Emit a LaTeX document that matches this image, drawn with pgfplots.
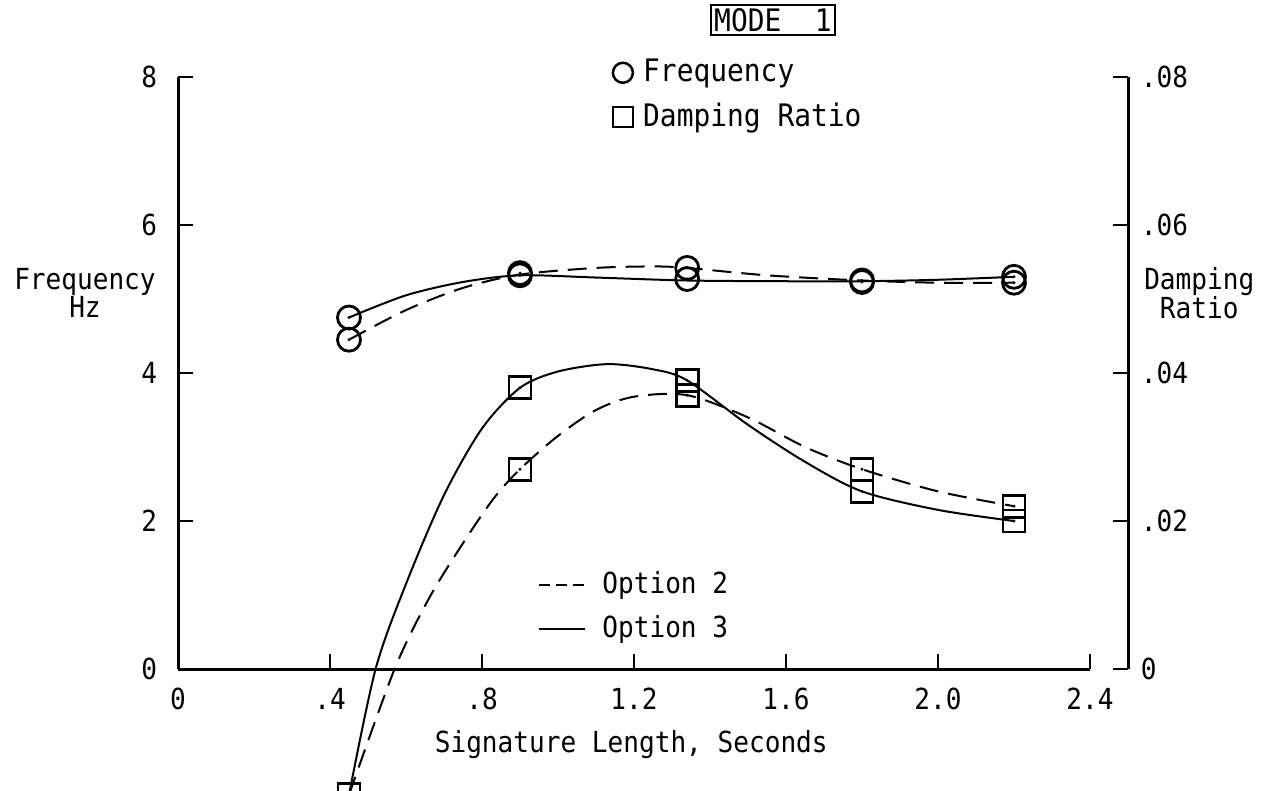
\documentclass[border=0pt]{standalone}
\usepackage{fontspec}
\setmainfont[FakeStretch=0.9]{DejaVu Sans Mono}
\usepackage{pgfplots}
\pgfplotsset{compat=1.18}

% marks with a small dot in the middle, as in the original
\pgfdeclareplotmark{cdot}{%
  \pgfpathcircle{\pgfpointorigin}{\pgfplotmarksize}\pgfusepathqstroke
  \pgfpathcircle{\pgfpointorigin}{1.6pt}\pgfusepathqfill}
\pgfdeclareplotmark{sdot}{%
  \pgfpathrectangle{\pgfpoint{-\pgfplotmarksize}{-\pgfplotmarksize}}%
    {\pgfpoint{2\pgfplotmarksize}{2\pgfplotmarksize}}\pgfusepathqstroke
  \pgfpathcircle{\pgfpointorigin}{1.6pt}\pgfusepathqfill}

\pgfplotsset{
  base/.style={
    scale only axis, height=592pt, ymin=0,
    at={(178pt,121pt)}, anchor=south west,
    clip=false, tick align=inside, major tick length=15pt,
    tick style={line width=2.5pt, black},
    axis line style={line width=3pt, -},
    scaled y ticks=false,
    legend cell align=left,
  },
  opt2/.style={black, line width=2pt, dash pattern=on 19pt off 10pt},
  opt3/.style={black, line width=2pt},
  fmark/.style={only marks, mark=cdot, mark size=11.5pt, black, mark options={line width=2.8pt, solid}},
  dmark/.style={only marks, mark=sdot, mark size=11pt, black, mark options={line width=2.8pt, solid}},
  circleg/.style={legend image code/.code={\draw[##1] (0pt,0pt) circle (10pt);}},
  sqleg/.style={legend image code/.code={\draw[##1] (-10pt,-10pt) rectangle (10pt,10pt);}},
  lineleg/.style={legend image code/.code={\draw[##1] (0pt,0pt) -- (46pt,0pt);}},
  dashleg/.style={legend image code/.code={\draw[##1, dash pattern=on 11pt off 6pt] (0pt,0pt) -- (45pt,0pt);}},
}

\begin{document}
\fontsize{29pt}{25pt}\selectfont
\begin{tikzpicture}
\begin{axis}[base,
  width=912pt, xmin=0, xmax=2.4, ymax=8,
  axis x line*=bottom, axis y line*=left,
  xtick={0,0.4,0.8,1.2,1.6,2.0,2.4},
  xticklabels={0,.4,.8,1.2,1.6,2.0,2.4},
  xticklabel style={yshift=-9pt},
  ytick={0,2,4,6,8}, yticklabels={0,2,4,6,8},
  yticklabel style={xshift=-11pt},
  xlabel={Signature Length, Seconds},
  xlabel style={at={(axis description cs:0.497,-0.128)}, anchor=center},
  ylabel={Frequency\\Hz},
  ylabel style={rotate=-90, align=center, at={(axis description cs:-0.102,0.635)}, anchor=center},
  legend style={draw=none, fill=none, at={(axis description cs:0.472,1.037)}, anchor=north west,
    row sep=13pt, nodes={inner sep=2pt, font=\fontsize{31pt}{25pt}\selectfont}, column sep=7pt},
]
% frequency, option 2 (dashed)
\addplot[opt2, smooth, forget plot] coordinates {(0.45,4.45) (0.6,4.85) (0.75,5.15) (0.9,5.33) (1.1,5.42)
  (1.25,5.44) (1.34,5.42) (1.55,5.32) (1.8,5.25) (2.0,5.22) (2.2,5.22)};
% frequency, option 3 (solid)
\addplot[opt3, smooth, forget plot] coordinates {(0.45,4.75) (0.6,5.05) (0.75,5.23) (0.9,5.32) (1.1,5.29)
  (1.34,5.25) (1.6,5.24) (1.8,5.24) (2.0,5.26) (2.2,5.3)};
\addplot[fmark, forget plot] coordinates {(0.45,4.45) (0.9,5.35) (1.34,5.42) (1.8,5.25) (2.2,5.22)};
\addplot[fmark, forget plot] coordinates {(0.45,4.75) (0.9,5.32) (1.34,5.27) (1.8,5.23) (2.2,5.3)};
\addlegendimage{black, line width=2.5pt, circleg}
\addlegendentry{Frequency}
\addlegendimage{black, line width=2.5pt, sqleg}
\addlegendentry{Damping Ratio}
\end{axis}

\begin{axis}[base,
  width=950pt, xmin=0, xmax=2.5, ymax=0.08,
  axis x line=none, axis y line*=right,
  ytick={0,0.02,0.04,0.06,0.08}, yticklabels={0,.02,.04,.06,.08},
  yticklabel style={xshift=3pt},
  ylabel={Damping\\Ratio},
  ylabel style={rotate=-90, align=center, at={(axis description cs:1.075,0.635)}, anchor=center},
  legend style={draw=none, fill=none, at={(axis description cs:0.376,0.172)}, anchor=north west,
    row sep=14pt, nodes={inner sep=2pt}, column sep=14pt},
]
% damping ratio, option 2 (dashed)
\addplot[opt2, smooth, dashleg] coordinates {(0.45,-0.017) (0.57,0) (0.66,0.0095) (0.75,0.017)
  (0.83,0.023) (0.9,0.027) (1.0,0.0315) (1.1,0.0350) (1.2,0.0368) (1.34,0.037) (1.5,0.034)
  (1.65,0.030) (1.8,0.027) (2.0,0.024) (2.2,0.022)};
\addlegendentry{Option 2}
% damping ratio, option 3 (solid)
\addplot[opt3, smooth, lineleg] coordinates {(0.45,-0.017) (0.52,0) (0.6,0.0115) (0.7,0.0235)
  (0.8,0.0325) (0.9,0.038) (1.0,0.0402) (1.13,0.0412) (1.25,0.0405) (1.34,0.039) (1.5,0.033)
  (1.65,0.028) (1.8,0.024) (2.0,0.0215) (2.2,0.020)};
\addlegendentry{Option 3}
\addplot[dmark, forget plot] coordinates {(0.45,-0.017) (0.9,0.027) (1.34,0.037) (1.8,0.027) (2.2,0.022)};
\addplot[dmark, forget plot] coordinates {(0.9,0.038) (1.34,0.039) (1.8,0.024) (2.2,0.020)};
\end{axis}

\node[draw, line width=1.5pt, inner xsep=3pt, inner ysep=3.5pt, font=\fontsize{31pt}{31pt}\selectfont] at (773pt,770pt) {MODE\ \ 1};

\pgfresetboundingbox
\path[use as bounding box] (0pt,0pt) rectangle (1266pt,790pt);
\end{tikzpicture}
\end{document}
